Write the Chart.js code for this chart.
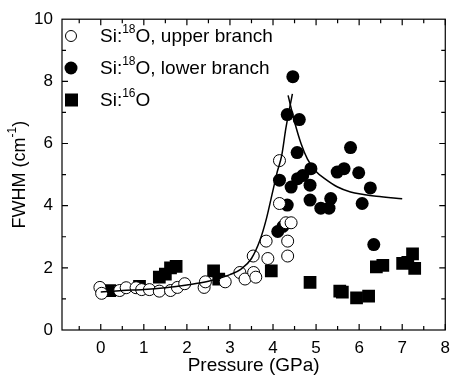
<!DOCTYPE html>
<html>
<head>
<meta charset="utf-8">
<script src="https://cdn.jsdelivr.net/npm/chart.js@4.4.0/dist/chart.umd.min.js"></script>
<style>
  html, body { margin: 0; padding: 0; background: #fff; }
  #wrap { width: 458px; height: 378px; }
</style>
</head>
<body>
<div id="wrap"><canvas id="fwhmChart"></canvas></div>
<script>
// Si:18O upper branch (open circles)
var upperX = [-0.02, 0.02, 0.44, 0.59, 0.82, 0.95, 1.13, 1.36, 1.62, 1.78, 1.95, 2.40, 2.43, 2.89, 3.23, 3.35, 3.55, 3.60, 3.54, 3.88, 3.84, 4.15, 4.15, 4.30, 4.42, 4.34, 4.34];
var upperY = [1.37, 1.18, 1.27, 1.36, 1.36, 1.30, 1.30, 1.25, 1.27, 1.37, 1.49, 1.37, 1.55, 1.55, 1.85, 1.64, 1.85, 1.70, 2.38, 2.30, 2.86, 4.07, 5.45, 3.45, 3.45, 2.86, 2.38];

// Si:18O lower branch (filled circles)
var lowerX = [4.46, 4.33, 4.61, 4.56, 4.15, 4.42, 4.57, 4.69, 4.88, 4.86, 4.86, 5.11, 5.30, 5.34, 5.49, 5.65, 5.80, 5.99, 6.26, 6.07, 6.34, 4.33, 4.23, 4.11];
var lowerY = [8.15, 6.93, 6.77, 5.71, 4.82, 4.60, 4.87, 4.97, 5.19, 4.66, 4.18, 3.92, 3.92, 4.23, 5.08, 5.19, 5.87, 5.06, 4.57, 4.07, 2.75, 4.02, 3.33, 3.17];

// Si:16O (squares)
var sq16X = [0.21, 0.90, 1.36, 1.50, 1.62, 1.75, 2.62, 2.74, 3.96, 4.86, 5.55, 5.61, 5.94, 6.22, 6.40, 6.55, 7.01, 7.13, 7.24, 7.29];
var sq16Y = [1.27, 1.40, 1.70, 1.80, 2.00, 2.05, 1.90, 1.64, 1.90, 1.53, 1.25, 1.22, 1.03, 1.09, 2.03, 2.08, 2.14, 2.18, 2.45, 1.98];

// fitted curves
var fitLeftX = [0.0, 0.5, 1.0, 1.5, 2.0, 2.5, 3.0, 3.25, 3.5, 3.7, 3.85, 4.0, 4.1, 4.2, 4.3, 4.45];
var fitLeftY = [1.22, 1.27, 1.30, 1.36, 1.45, 1.57, 1.78, 1.95, 2.30, 2.90, 3.60, 4.50, 5.10, 5.60, 6.50, 7.60];
var fitRightX = [4.35, 4.5, 4.65, 4.8, 5.0, 5.2, 5.5, 5.8, 6.1, 6.4, 7.0];
var fitRightY = [7.55, 6.70, 6.00, 5.50, 5.10, 4.87, 4.60, 4.44, 4.36, 4.30, 4.22];

var xTickValues = [0, 1, 2, 3, 4, 5, 6, 7, 8];
var yTickValues = [0, 2, 4, 6, 8, 10];

function toPoints(xs, ys) {
    return xs.map(function (x, i) { return { x: x, y: ys[i] }; });
}

// draws text with a raised small part: parts = [[text, isSup], ...]
function drawRichText(ctx, parts, x, y, size) {
    var cx = x;
    parts.forEach(function (p) {
        var f = p[1] ? Math.round(size * 0.65) : size;
        ctx.font = f + 'px "Liberation Sans", Arial, sans-serif';
        ctx.fillText(p[0], cx, p[1] ? y - size * 0.38 : y);
        cx += ctx.measureText(p[0]).width;
    });
    return cx - x;
}
function richWidth(ctx, parts, size) {
    var w = 0;
    parts.forEach(function (p) {
        var f = p[1] ? Math.round(size * 0.65) : size;
        ctx.font = f + 'px "Liberation Sans", Arial, sans-serif';
        w += ctx.measureText(p[0]).width;
    });
    return w;
}

var framePlugin = {
    id: 'frame',
    afterDraw: function (chart) {
        var ctx = chart.ctx;
        var a = chart.chartArea;
        var xs = chart.scales.x, ys = chart.scales.y;
        ctx.save();
        ctx.strokeStyle = '#000';
        ctx.lineWidth = 1.2;
        ctx.strokeRect(a.left, a.top, a.right - a.left, a.bottom - a.top);

        // inward ticks on all four sides
        ctx.beginPath();
        for (var v = -0.5; v <= 8; v += 0.5) {
            var px = xs.getPixelForValue(v);
            var len = (v % 1 === 0) ? 6 : 4;
            ctx.moveTo(px, a.bottom); ctx.lineTo(px, a.bottom - len);
            ctx.moveTo(px, a.top); ctx.lineTo(px, a.top + len);
        }
        for (var w = 1; w < 10; w += 1) {
            var py = ys.getPixelForValue(w);
            var l2 = (w % 2 === 0) ? 6 : 4;
            ctx.moveTo(a.left, py); ctx.lineTo(a.left + l2, py);
            ctx.moveTo(a.right, py); ctx.lineTo(a.right - l2, py);
        }
        ctx.stroke();

        // legend
        ctx.fillStyle = '#000';
        ctx.textBaseline = 'middle';
        ctx.textAlign = 'left';
        var rows = [
            { y: 36, parts: [['Si:', false], ['18', true], ['O, upper branch', false]] },
            { y: 68, parts: [['Si:', false], ['18', true], ['O, lower branch', false]] },
            { y: 100, parts: [['Si:', false], ['16', true], ['O', false]] }
        ];
        rows.forEach(function (r, i) {
            if (i === 0) {
                ctx.beginPath(); ctx.arc(71, r.y, 5.5, 0, Math.PI * 2);
                ctx.fillStyle = '#fff'; ctx.fill();
                ctx.lineWidth = 1; ctx.strokeStyle = '#000'; ctx.stroke();
            } else if (i === 1) {
                ctx.beginPath(); ctx.arc(71, r.y, 6.5, 0, Math.PI * 2);
                ctx.fillStyle = '#000'; ctx.fill();
            } else {
                ctx.fillStyle = '#000'; ctx.fillRect(65, r.y - 6.5, 13, 13);
            }
            ctx.fillStyle = '#000';
            drawRichText(ctx, r.parts, 100, r.y + 1, 19);
        });

        // y axis title
        var yParts = [['FWHM (cm', false], ['-1', true], [')', false]];
        var tw = richWidth(ctx, yParts, 18);
        ctx.translate(20, (a.top + a.bottom) / 2);
        ctx.rotate(-Math.PI / 2);
        drawRichText(ctx, yParts, -tw / 2, 0, 18);
        ctx.restore();
    }
};

var ctx = document.getElementById('fwhmChart').getContext('2d');
new Chart(ctx, {
    type: 'scatter',
    data: {
        datasets: [
            {
                label: 'fit left',
                data: toPoints(fitLeftX, fitLeftY),
                showLine: true, pointRadius: 0, borderColor: '#000', borderWidth: 1.5,
                cubicInterpolationMode: 'monotone', fill: false, order: 0
            },
            {
                label: 'fit right',
                data: toPoints(fitRightX, fitRightY),
                showLine: true, pointRadius: 0, borderColor: '#000', borderWidth: 1.5,
                cubicInterpolationMode: 'monotone', fill: false, order: 0
            },
            {
                label: 'Si:18O, upper branch',
                data: toPoints(upperX, upperY),
                pointStyle: 'circle', pointRadius: 6, pointBackgroundColor: '#fff',
                pointBorderColor: '#000', pointBorderWidth: 1, order: 1
            },
            {
                label: 'Si:18O, lower branch',
                data: toPoints(lowerX, lowerY),
                pointStyle: 'circle', pointRadius: 6.5, pointBackgroundColor: '#000',
                pointBorderColor: '#000', pointBorderWidth: 0, order: 2
            },
            {
                label: 'Si:16O',
                data: toPoints(sq16X, sq16Y),
                pointStyle: 'rect', pointRadius: 9, pointBackgroundColor: '#000',
                pointBorderColor: '#000', pointBorderWidth: 0, order: 3
            }
        ]
    },
    options: {
        responsive: true,
        maintainAspectRatio: false,
        animation: false,
        layout: { padding: { top: 15, right: 9, left: 0, bottom: 0 } },
        plugins: {
            legend: { display: false },
            tooltip: { enabled: false }
        },
        scales: {
            x: {
                type: 'linear',
                min: -0.9, max: 8,
                afterBuildTicks: function (scale) {
                    scale.ticks = xTickValues.map(function (v) { return { value: v }; });
                },
                afterFit: function (scale) { scale.height = 48; },
                grid: { display: false, drawTicks: false },
                border: { display: false },
                ticks: {
                    color: '#000', padding: 8, maxRotation: 0, autoSkip: false,
                    font: { size: 17, family: '"Liberation Sans", Arial, sans-serif' }
                },
                title: {
                    display: true, text: 'Pressure (GPa)', color: '#000',
                    padding: { top: 0, bottom: 1 },
                    font: { size: 19, family: '"Liberation Sans", Arial, sans-serif' }
                }
            },
            y: {
                type: 'linear',
                min: 0, max: 10,
                afterBuildTicks: function (scale) {
                    scale.ticks = yTickValues.map(function (v) { return { value: v }; });
                },
                afterFit: function (scale) { scale.width = 62; },
                grid: { display: false, drawTicks: false },
                border: { display: false },
                ticks: {
                    color: '#000', padding: 9,
                    font: { size: 17, family: '"Liberation Sans", Arial, sans-serif' }
                }
            }
        }
    },
    plugins: [framePlugin]
});
</script>
</body>
</html>
